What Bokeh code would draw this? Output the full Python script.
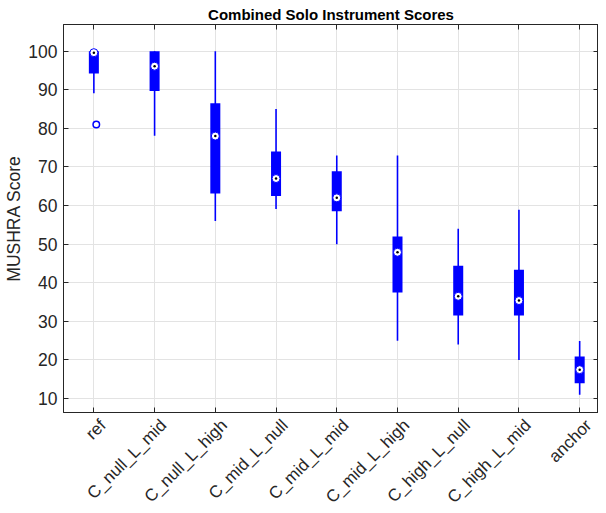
import numpy as np
from bokeh.plotting import figure
from bokeh.layouts import column
from bokeh.models import (ColumnDataSource, FixedTicker, LinearAxis, Range1d, Title,
                          CustomLabelingPolicy)
from bokeh.core.properties import value
from bokeh.embed import file_html
from bokeh.resources import INLINE

# ---- data ----
categories = ["ref", "C_null_L_mid", "C_null_L_high", "C_mid_L_null", "C_mid_L_mid",
              "C_mid_L_high", "C_high_L_null", "C_high_L_mid", "anchor"]
q1 = [94.2, 89.7, 63.1, 62.5, 58.5, 37.5, 31.5, 31.5, 14.0]
q3 = [100.0, 100.0, 86.5, 74.0, 68.9, 52.0, 44.4, 43.4, 20.9]
medians = [99.6, 96.1, 78.0, 67.0, 62.0, 47.9, 36.5, 35.4, 17.5]
whisker_low = [89.1, 78.1, 56.0, 59.1, 50.0, 25.0, 24.0, 20.0, 11.0]
whisker_high = [100.0, 100.0, 100.0, 85.0, 73.0, 73.0, 54.0, 58.9, 24.9]
outlier_group = [1]          # 1-based category index
outlier_jitter = [0.04]      # horizontal jitter of the outlier marker
outlier_values = [81.0]
y_ticks = [10, 20, 30, 40, 50, 60, 70, 80, 90, 100]

TXT = "#262626"
FONT = "Liberation Sans"
BLUE = "#0000ff"

W = 598
TOP_H = 414          # main figure height (frame bottom 2px above its edge)
BOT_H = 91           # strip below holding the rotated category labels
LEFT = 63

xpos = list(range(1, len(categories) + 1))
x_range = Range1d(0.5, 9.31)
y_range = Range1d(6.4, 106.9)
src = ColumnDataSource(dict(x=xpos, q1=q1, q3=q3, med=medians, lo=whisker_low, hi=whisker_high))
osrc = ColumnDataSource(dict(x=[g + j for g, j in zip(outlier_group, outlier_jitter)], y=outlier_values))

p = figure(width=W, height=TOP_H, output_backend="svg", toolbar_location=None,
           x_range=x_range, y_range=y_range,
           min_border_left=LEFT, min_border_right=0, min_border_top=24, min_border_bottom=2)
p.title = Title(text="Combined Solo Instrument Scores", align="center",
                text_font=FONT, text_font_size="15px", text_font_style="bold",
                text_color="#000000", standoff=3, offset=0)
p.background_fill_color = "white"
p.border_fill_color = "white"
p.outline_line_color = TXT
p.outline_line_width = 1

for ax in (p.xaxis[0], p.yaxis[0]):
    ax.major_label_text_font = FONT
    ax.major_label_text_font_size = "17.5px"
    ax.major_label_text_color = TXT
    ax.axis_line_color = TXT
    ax.major_tick_line_color = TXT
    ax.major_tick_in = 5
    ax.major_tick_out = 0
    ax.minor_tick_line_color = None

# bottom axis: ticks only (category labels are drawn in the strip below)
p.xaxis.ticker = FixedTicker(ticks=xpos)
p.xaxis.major_label_policy = CustomLabelingPolicy(code="return new Set()")
p.xaxis.major_label_text_font_size = "0px"
p.xaxis.major_label_standoff = 0

p.yaxis.ticker = FixedTicker(ticks=y_ticks)
p.yaxis.major_label_standoff = 6
p.yaxis.axis_label = "MUSHRA Score"
p.yaxis.axis_label_text_font = FONT
p.yaxis.axis_label_text_font_size = "17.5px"
p.yaxis.axis_label_text_font_style = "normal"
p.yaxis.axis_label_text_color = TXT
p.yaxis.axis_label_standoff = 1

# top / right axes (ticks only, no labels)
top = LinearAxis(ticker=FixedTicker(ticks=xpos),
                 major_label_policy=CustomLabelingPolicy(code="return new Set()"),
                 major_label_text_font_size="0px",
                 major_label_standoff=0, major_tick_in=5, major_tick_out=0,
                 axis_line_color=TXT, major_tick_line_color=TXT, minor_tick_line_color=None)
right = LinearAxis(ticker=FixedTicker(ticks=y_ticks),
                   major_label_policy=CustomLabelingPolicy(code="return new Set()"),
                   major_label_text_font_size="0px",
                   major_label_standoff=0, major_tick_in=5, major_tick_out=0,
                   axis_line_color=TXT, major_tick_line_color=TXT, minor_tick_line_color=None)
p.add_layout(top, "above")
p.add_layout(right, "right")

p.xgrid.ticker = FixedTicker(ticks=xpos)
p.ygrid.ticker = FixedTicker(ticks=y_ticks)
p.grid.grid_line_color = "#e3e3e3"
p.grid.grid_line_width = 1

# whiskers
p.segment(x0="x", y0="lo", x1="x", y1="hi", source=src, line_color=BLUE, line_width=1.6)
# boxes
p.vbar(x="x", bottom="q1", top="q3", width=0.165, source=src, fill_color=BLUE, line_color=None)
# median target markers
p.scatter(x="x", y="med", source=src, marker="circle", size=8,
          fill_color="white", line_color=BLUE, line_width=1)
p.scatter(x="x", y="med", source=src, marker="circle", size=2.5,
          fill_color="black", line_color=None)
# outliers
p.scatter(x="x", y="y", source=osrc, marker="circle", size=6.5,
          fill_color=None, line_color=BLUE, line_width=1.5)

# ---- strip with the rotated category labels (1 y-unit = 1 px, 0 = top) ----
LABEL_DROP = 8       # px below the strip top where each label's right end sits
LABEL_SHIFT = 9      # px to the right of the tick
q = figure(width=W, height=BOT_H, output_backend="svg", toolbar_location=None,
           x_range=x_range, y_range=Range1d(-BOT_H, 0),
           x_axis_location=None, y_axis_location=None,
           min_border_left=LEFT, min_border_right=0, min_border_top=0, min_border_bottom=0)
q.grid.visible = False
q.outline_line_color = None
q.background_fill_color = "white"
q.border_fill_color = "white"
lsrc = ColumnDataSource(dict(x=xpos, y=[-LABEL_DROP] * len(xpos), text=categories))
q.text(x="x", y="y", text="text", source=lsrc, angle=np.pi / 4, x_offset=LABEL_SHIFT,
       text_align="right", text_baseline="middle",
       text_font=value(FONT), text_font_size="17px", text_color=TXT)

layout = column(p, q, spacing=0)
open("out.html", "w").write(file_html(layout, INLINE))
